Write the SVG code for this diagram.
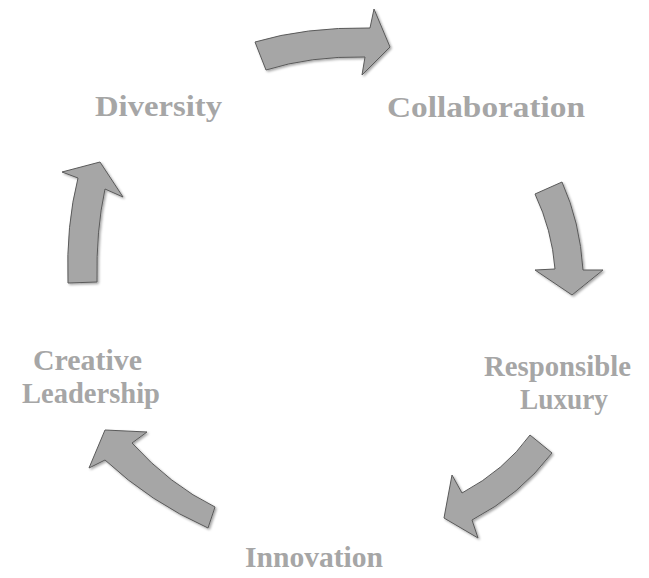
<svg xmlns="http://www.w3.org/2000/svg" width="649" height="578" viewBox="0 0 649 578">
<defs>
<filter id="sh" x="-20%" y="-20%" width="140%" height="140%">
<feDropShadow dx="1.5" dy="1.5" stdDeviation="1" flood-color="#000" flood-opacity="0.35"/>
</filter>
</defs>
<style>
.lbl{font-family:"Liberation Serif","DejaVu Serif",serif;font-weight:bold;font-size:30px;fill:#a6a6a6;text-anchor:middle}
.arr{fill:#a6a6a6;stroke:#5a5a5a;stroke-width:1;stroke-linejoin:round;filter:url(#sh)}
</style>
<rect width="649" height="578" fill="#ffffff"/>
<g id="connectors">
<path class="arr" d="M255,42 Q305,27 370,28 L374,9 L390,47 L362,75 L365,57 Q310,56 266,70 Z"/>
<path class="arr" d="M535,194 L562,182 Q580,222 583,270 L603,270 L572,295 L535,270 L555,269 Q552,230 535,194 Z"/>
<path class="arr" d="M530,435 L552,453 Q520,495 472,520 L478,538 L444,518 L452,475 L462,493 Q505,470 530,435 Z"/>
<path class="arr" d="M215,507 L208,528 Q150,502 105,460 L89,468 L105,430 L147,432 L132,443 Q170,485 215,507 Z"/>
<path class="arr" d="M68,283 Q66,225 78,178 L62,172 L100,162 L123,197 L105,189 Q96,230 97,282 Z"/>
</g>
<g id="diversity"><text class="lbl" x="158.5" y="116" textLength="127" lengthAdjust="spacingAndGlyphs">Diversity</text></g>
<g id="collaboration"><text class="lbl" x="486" y="117" textLength="198" lengthAdjust="spacingAndGlyphs">Collaboration</text></g>
<g id="responsible-luxury"><text class="lbl" x="557.5" y="376" textLength="147" lengthAdjust="spacingAndGlyphs">Responsible</text><text class="lbl" x="564" y="409" textLength="88" lengthAdjust="spacingAndGlyphs">Luxury</text></g>
<g id="innovation"><text class="lbl" x="314" y="567" textLength="138" lengthAdjust="spacingAndGlyphs">Innovation</text></g>
<g id="creative-leadership"><text class="lbl" x="87.5" y="370" textLength="109" lengthAdjust="spacingAndGlyphs">Creative</text><text class="lbl" x="91" y="403" textLength="138" lengthAdjust="spacingAndGlyphs">Leadership</text></g>
</svg>
